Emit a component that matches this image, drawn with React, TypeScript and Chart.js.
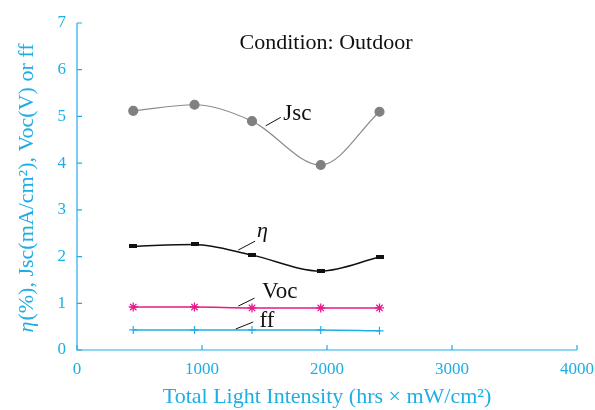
import React, { useEffect, useRef } from "react";
import { Chart, registerables } from "chart.js";

Chart.register(...registerables);

const xValues = [450, 940, 1400, 1950, 2420];
const jscValues = [5.12, 5.25, 4.9, 3.96, 5.1];
const etaValues = [2.22, 2.26, 2.03, 1.69, 1.99];
const vocValues = [0.92, 0.92, 0.9, 0.9, 0.9];
const ffValues = [0.43, 0.43, 0.43, 0.43, 0.41];
const xTicks = [0, 1000, 2000, 3000, 4000];
const yTicks = [0, 1, 2, 3, 4, 5, 6, 7];

const CYAN = "#1eaee6";
const MAGENTA = "#e8198b";
const SERIF = "'Liberation Serif', serif";

function pts(ys: number[]) {
  return xValues.map((x, i) => ({ x, y: ys[i] }));
}

function rectMarker() {
  const c = document.createElement("canvas");
  c.width = 8;
  c.height = 4;
  const g = c.getContext("2d")!;
  g.fillStyle = "#111";
  g.fillRect(0, 0, 8, 4);
  return c;
}

const decorPlugin = {
  id: "decor",
  afterDatasetsDraw(chart: any) {
    const { ctx, chartArea, scales } = chart;
    const xs = scales.x;
    const ys = scales.y;
    ctx.save();
    ctx.strokeStyle = CYAN;
    ctx.lineWidth = 1.2;
    ctx.beginPath();
    ctx.moveTo(chartArea.left, chartArea.top);
    ctx.lineTo(chartArea.left, chartArea.bottom);
    ctx.lineTo(chartArea.right, chartArea.bottom);
    ctx.stroke();
    ctx.beginPath();
    yTicks.forEach((v) => {
      const py = ys.getPixelForValue(v);
      ctx.moveTo(chartArea.left, py);
      ctx.lineTo(chartArea.left + 5, py);
    });
    xTicks.forEach((v) => {
      const px = xs.getPixelForValue(v);
      ctx.moveTo(px, chartArea.bottom);
      ctx.lineTo(px, chartArea.bottom - 5);
    });
    ctx.stroke();

    // y title
    ctx.fillStyle = CYAN;
    ctx.translate(27, (chartArea.top + chartArea.bottom) / 2 + 2);
    ctx.rotate(-Math.PI / 2);
    ctx.textBaseline = "middle";
    const italicFont = `italic 22px ${SERIF}`;
    const normalFont = `22px ${SERIF}`;
    const rest = "(%), Jsc(mA/cm\u00B2), Voc(V) or ff";
    ctx.font = italicFont;
    const w1 = ctx.measureText("\u03B7").width;
    ctx.font = normalFont;
    const w2 = ctx.measureText(rest).width;
    const start = -(w1 + w2) / 2;
    ctx.font = italicFont;
    ctx.textAlign = "left";
    ctx.fillText("\u03B7", start, 0);
    ctx.font = normalFont;
    ctx.fillText(rest, start + w1 + 1, 0);
    ctx.restore();

    // annotations
    ctx.save();
    ctx.fillStyle = "#111";
    ctx.strokeStyle = "#111";
    ctx.lineWidth = 1;
    ctx.textBaseline = "middle";
    ctx.textAlign = "center";
    ctx.font = `22px ${SERIF}`;
    ctx.fillText("Condition: Outdoor", 326, 43);
    ctx.textAlign = "left";
    const P = (x: number, y: number) => [xs.getPixelForValue(x), ys.getPixelForValue(y)];
    const lead = (a: number[], b: number[]) => {
      const p1 = P(a[0], a[1]);
      const p2 = P(b[0], b[1]);
      ctx.beginPath();
      ctx.moveTo(p1[0], p1[1]);
      ctx.lineTo(p2[0], p2[1]);
      ctx.stroke();
    };
    const label = (t: string, x: number, y: number, font: string) => {
      const p = P(x, y);
      ctx.font = font;
      ctx.fillText(t, p[0], p[1]);
    };
    lead([1510, 4.8], [1630, 4.98]);
    label("Jsc", 1650, 5.05, `23px ${SERIF}`);
    lead([1290, 2.14], [1425, 2.33]);
    label("\u03B7", 1440, 2.55, `italic 22px ${SERIF}`);
    lead([1290, 0.94], [1420, 1.11]);
    label("Voc", 1480, 1.24, `23px ${SERIF}`);
    lead([1270, 0.45], [1410, 0.6]);
    label("ff", 1460, 0.62, `23px ${SERIF}`);
    ctx.restore();
  },
};

export default function App() {
  const ref = useRef<HTMLCanvasElement | null>(null);
  useEffect(() => {
    document.body.style.margin = "0";
    const chart = new Chart(ref.current!, {
      type: "line",
      data: {
        datasets: [
          {
            data: pts(jscValues),
            borderColor: "#8c8c8c",
            borderWidth: 1.2,
            pointBackgroundColor: "#808080",
            pointBorderColor: "#808080",
            pointRadius: 4.5,
            cubicInterpolationMode: "monotone",
          },
          {
            data: pts(etaValues),
            borderColor: "#111",
            borderWidth: 1.4,
            pointStyle: rectMarker() as any,
            cubicInterpolationMode: "monotone",
          },
          {
            data: pts(vocValues),
            borderColor: MAGENTA,
            borderWidth: 1.6,
            pointStyle: "star",
            pointRadius: 4.5,
            pointBorderColor: MAGENTA,
            pointBorderWidth: 1.3,
            cubicInterpolationMode: "monotone",
          },
          {
            data: pts(ffValues),
            borderColor: CYAN,
            borderWidth: 1.5,
            pointStyle: "cross",
            pointRadius: 4,
            pointBorderColor: CYAN,
            pointBorderWidth: 1.2,
            cubicInterpolationMode: "monotone",
          },
        ],
      },
      options: {
        animation: false,
        responsive: false,
        layout: { padding: { top: 23, right: 18, left: 0, bottom: 0 } },
        plugins: { legend: { display: false }, tooltip: { enabled: false } },
        scales: {
          x: {
            type: "linear",
            min: 0,
            max: 4000,
            afterBuildTicks: (s: any) => {
              s.ticks = xTicks.map((v) => ({ value: v }));
            },
            grid: { display: false, drawTicks: false },
            border: { display: false },
            ticks: {
              color: CYAN,
              font: { family: SERIF, size: 17 },
              padding: 9,
              maxRotation: 0,
              callback: (v: any) => String(v),
            },
            title: {
              display: true,
              text: "Total Light Intensity (hrs \u00D7 mW/cm\u00B2)",
              color: CYAN,
              font: { family: SERIF, size: 22 },
              padding: { top: 2, bottom: 0 },
            },
            afterFit: (s: any) => {
              s.height = 60;
              s.paddingRight = 0;
              s.paddingLeft = 0;
            },
          },
          y: {
            type: "linear",
            min: 0,
            max: 7,
            afterBuildTicks: (s: any) => {
              s.ticks = yTicks.map((v) => ({ value: v }));
            },
            grid: { display: false, drawTicks: false },
            border: { display: false },
            ticks: { color: CYAN, font: { family: SERIF, size: 17 }, padding: 11 },
            afterFit: (s: any) => {
              s.width = 77;
            },
          },
        },
      },
      plugins: [decorPlugin],
    });
    return () => chart.destroy();
  }, []);
  return <canvas ref={ref} width={595} height={410} style={{ display: "block" }} />;
}
